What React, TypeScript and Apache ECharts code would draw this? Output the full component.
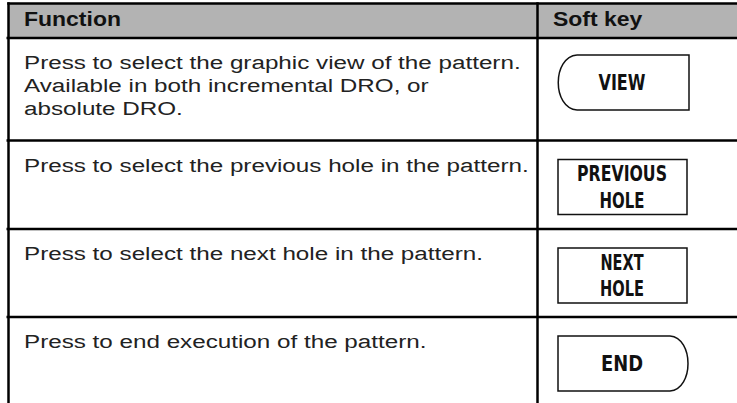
import React, { useEffect, useRef } from "react";
import * as echarts from "echarts";

// ---- content ----
const headers = ["Function", "Soft key"];
const functionRow1 = [
  "Press to select the graphic view of the pattern.",
  "Available in both incremental DRO, or",
  "absolute DRO.",
];
const functionRow2 = ["Press to select the previous hole in the pattern."];
const functionRow3 = ["Press to select the next hole in the pattern."];
const functionRow4 = ["Press to end execution of the pattern."];
const functionTexts = [functionRow1, functionRow2, functionRow3, functionRow4];
const softKeyLabels = [["VIEW"], ["PREVIOUS", "HOLE"], ["NEXT", "HOLE"], ["END"]];
const softKeyShapes = ["tabLeft", "rect", "rect", "tabRight"];

// ---- layout ----
const W = 737;
const H = 403;
const LEFT_X = 8.5;
const DIV_X = 537.5;
const TOP_Y = 3.5;
const HEADER_Y = 38;
const ROW_LINES = [140.5, 229, 317];
const ROW_TOPS = [HEADER_Y, ...ROW_LINES];
const TEXT_X = 24;
const SOFT_X = 553;
const LINE_H = 23;
const BTN_X0 = 558;
const BTN_X1 = 687;
const BTN_H = 55;
const LABEL_WIDTHS = [[47], [90, 45], [43, 44], [42]];
const BODY_FONT = "Liberation Sans, Arial, sans-serif";
const KEY_FONT = "'Liberation Sans Narrow', 'DejaVu Sans Condensed', 'Liberation Sans', sans-serif";

function measurer() {
  const c = document.createElement("canvas").getContext("2d");
  return (text: string, font: string) => {
    if (!c) return text.length * 10;
    c.font = font;
    return c.measureText(text).width;
  };
}

export default function App() {
  const ref = useRef<HTMLDivElement>(null);
  useEffect(() => {
    document.body.style.margin = "0";
    if (!ref.current) return;
    const chart = echarts.init(ref.current, null, { renderer: "svg" });
    const measure = measurer();

    const bodySize = 18;
    const bodyScale = 497 / measure(functionRow1[0], `${bodySize}px Liberation Sans`);
    const headSize = 20;
    const headScale = 97 / measure(headers[0], `bold ${headSize}px Liberation Sans`);
    const keySize = 22;

    const els: any[] = [];
    els.push({
      type: "rect",
      shape: { x: LEFT_X, y: TOP_Y, width: W - LEFT_X, height: HEADER_Y - TOP_Y },
      style: { fill: "#b3b3b3" },
      z: 0,
    });
    const lineStyle = { stroke: "#000", lineWidth: 2.5 };
    els.push({ type: "line", shape: { x1: LEFT_X - 1.2, y1: TOP_Y, x2: W, y2: TOP_Y }, style: lineStyle, z: 2 });
    [HEADER_Y, ...ROW_LINES].forEach((y) => {
      els.push({ type: "line", shape: { x1: 6.5, y1: y, x2: W, y2: y }, style: lineStyle, z: 2 });
    });
    els.push({ type: "line", shape: { x1: LEFT_X, y1: TOP_Y - 1.2, x2: LEFT_X, y2: H }, style: lineStyle, z: 2 });
    els.push({ type: "line", shape: { x1: DIV_X, y1: TOP_Y - 1.2, x2: DIV_X, y2: H }, style: lineStyle, z: 2 });

    [TEXT_X, SOFT_X].forEach((x, i) => {
      els.push({
        type: "text",
        x,
        y: 20,
        scaleX: headScale,
        style: {
          text: headers[i],
          fontSize: headSize,
          fontWeight: "bold",
          fontFamily: BODY_FONT,
          fill: "#111",
          align: "left",
          verticalAlign: "middle",
        },
        z: 3,
      });
    });

    functionTexts.forEach((lines, r) => {
      const top = ROW_TOPS[r];
      lines.forEach((t, k) => {
        els.push({
          type: "text",
          x: TEXT_X,
          y: top + 25.5 + k * LINE_H,
          scaleX: bodyScale,
          style: {
            text: t,
            fontSize: bodySize,
            fontFamily: BODY_FONT,
            fill: "#222",
            align: "left",
            verticalAlign: "middle",
          },
          z: 3,
        });
      });

      const by0 = top + (r === 0 ? 17 : 19);
      const by1 = by0 + BTN_H;
      const cy = (by0 + by1) / 2;
      const bStyle = { stroke: "#111", lineWidth: 1.5, fill: "none" };
      const shape = softKeyShapes[r];
      if (shape === "rect") {
        els.push({
          type: "rect",
          shape: { x: BTN_X0, y: by0, width: BTN_X1 - BTN_X0, height: by1 - by0 },
          style: { stroke: "#111", lineWidth: 1.5, fill: "#fff" },
          z: 3,
        });
      } else if (shape === "tabLeft") {
        const xr = BTN_X1 + 2;
        const xs = 577;
        els.push({
          type: "polyline",
          shape: { points: [[xs, by0], [xr, by0], [xr, by1], [xs, by1]] },
          style: bStyle,
          z: 3,
        });
        els.push({
          type: "bezierCurve",
          shape: { x1: xs, y1: by1, cpx1: 552, cpy1: by1 - 2, cpx2: 552, cpy2: by0 + 2, x2: xs, y2: by0 },
          style: bStyle,
          z: 3,
        });
      } else {
        const xs = 670;
        els.push({
          type: "polyline",
          shape: { points: [[xs, by0], [BTN_X0, by0], [BTN_X0, by1], [xs, by1]] },
          style: bStyle,
          z: 3,
        });
        els.push({
          type: "bezierCurve",
          shape: { x1: xs, y1: by0, cpx1: 694, cpy1: by0 + 2, cpx2: 694, cpy2: by1 - 2, x2: xs, y2: by1 },
          style: bStyle,
          z: 3,
        });
      }
      const labels = softKeyLabels[r];
      labels.forEach((lab, k) => {
        const ly = labels.length === 1 ? cy : cy - 13 + k * 26.5;
        const mw = measure(lab, `bold ${keySize}px ${KEY_FONT}`);
        els.push({
          type: "text",
          x: 622,
          y: ly,
          scaleX: LABEL_WIDTHS[r][k] / mw,
          style: {
            text: lab,
            fontSize: keySize,
            fontWeight: "bold",
            fontFamily: KEY_FONT,
            fill: "#111",
            align: "center",
            verticalAlign: "middle",
          },
          z: 4,
        });
      });
    });

    chart.setOption({
      animation: false,
      backgroundColor: "#fff",
      graphic: { elements: els },
    });
    return () => chart.dispose();
  }, []);
  return (
    <div
      ref={ref}
      style={{ position: "fixed", left: 0, top: 0, width: W, height: H }}
    />
  );
}
